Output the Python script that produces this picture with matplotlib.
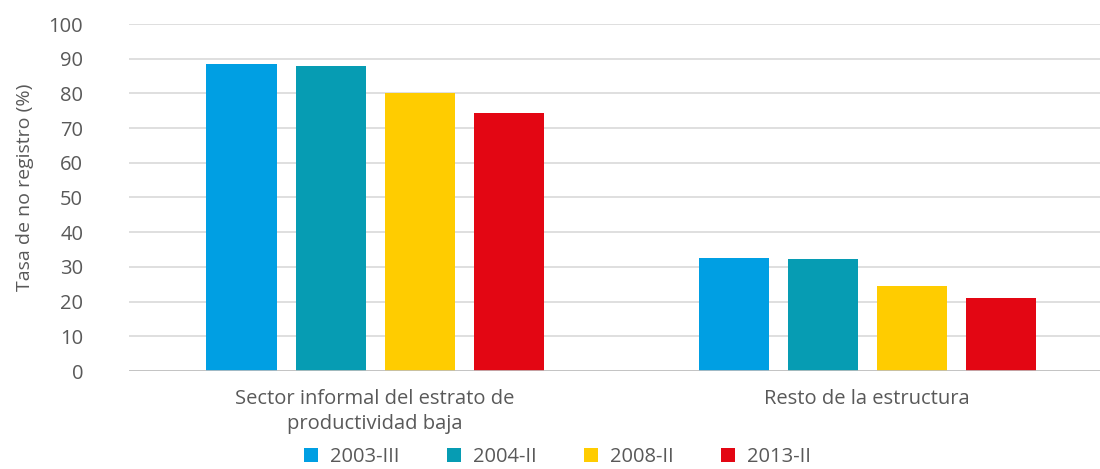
import matplotlib.pyplot as plt
import numpy as np

categories = ['Sector informal del estrato de\nproductividad baja', 'Resto de la estructura']
series = ['2003-III', '2004-II', '2008-II', '2013-II']
v2003 = [88.6, 32.6]
v2004 = [87.8, 32.2]
v2008 = [80.2, 24.4]
v2013 = [74.4, 21.1]
colors = ['#009FE3', '#069CB3', '#FFCC00', '#E30613']

plt.rcParams['font.family'] = ['Open Sans', 'DejaVu Sans']
text_color = '#595959'

fig = plt.figure(figsize=(11, 4.69), dpi=100)
ax = fig.add_axes([129 / 1100, 98 / 469, (1100 - 129) / 1100, 347 / 469])

x = np.arange(len(categories))
width = 70 / 492
step = 89 / 492
offsets = (np.arange(4) - 1.5) * step
for vals, name, col, off in zip([v2003, v2004, v2008, v2013], series, colors, offsets):
    ax.bar(x + off, vals, width, color=col, label=name, zorder=3)

ax.set_xlim(-0.5, -0.5 + (1100 - 129) / 492)
ax.set_ylim(0, 100)
ax.set_yticks(range(0, 101, 10))
ax.yaxis.grid(True, color='#D9D9D9', linewidth=1.2, zorder=0)
ax.axhline(0, color='#BFBFBF', linewidth=1.2, zorder=4)
for s in ax.spines.values():
    s.set_visible(False)
ax.tick_params(axis='y', length=0, pad=33, labelsize=14.5, labelcolor=text_color)
ax.tick_params(axis='x', length=0, pad=13, labelsize=14.5, labelcolor=text_color)
ax.set_xticks(x)
ax.set_xticklabels(categories, linespacing=1.3)
ax.set_ylabel('Tasa de no registro (%)', fontsize=14, color=text_color)
ax.yaxis.set_label_coords(-0.098, 0.53)

fig.legend(loc='lower center', bbox_to_anchor=(0.507, -0.03), ncol=4, frameon=False,
           fontsize=14.5, labelcolor=text_color, handlelength=0.7, handleheight=0.7,
           handletextpad=0.6, columnspacing=2.35, borderpad=0.3)

fig.savefig('out.png', dpi=100)
